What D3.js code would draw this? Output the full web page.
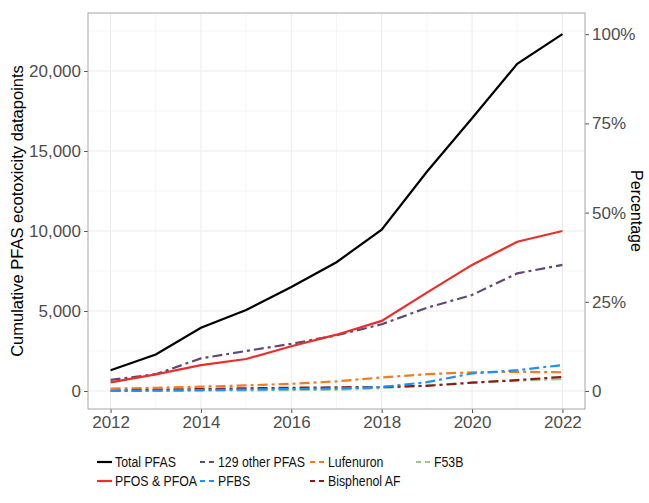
<!DOCTYPE html>
<html>
<head>
<meta charset="utf-8">
<script src="https://cdn.jsdelivr.net/npm/d3@7"></script>
<style>
  body { margin: 0; background: #fff; }
  svg { font-family: "Liberation Sans", Arial, sans-serif; }
</style>
</head>
<body>
<div id="chart"></div>
<script>
// data
const years = [2012, 2013, 2014, 2015, 2016, 2017, 2018, 2019, 2020, 2021, 2022];
const totalPfas   = [1300, 2280, 3950, 5060, 6500, 8050, 10080, 13700, 17050, 20450, 22300];
const pfosPfoa    = [540, 1040, 1620, 2000, 2800, 3520, 4380, 6150, 7880, 9330, 10000];
const otherPfas   = [690, 1050, 2040, 2500, 2950, 3480, 4170, 5200, 6000, 7350, 7880];
const lufenuron   = [150, 200, 270, 350, 450, 600, 850, 1050, 1170, 1200, 1170];
const pfbs        = [0, 20, 60, 90, 120, 150, 250, 550, 1100, 1300, 1620];
const bisphenolAF = [30, 80, 120, 170, 200, 230, 250, 320, 520, 680, 880];
const f53b        = [0, 0, 20, 40, 60, 80, 180, 350, 530, 650, 750];

const seriesNames = ["Total PFAS", "PFOS & PFOA", "129 other PFAS", "PFBS", "Lufenuron", "Bisphenol AF", "F53B"];
const seriesValues = [totalPfas, pfosPfoa, otherPfas, pfbs, lufenuron, bisphenolAF, f53b];
const seriesColors = ["#000000", "#EE2C2C", "#5E4A72", "#1E90FF", "#F57A1F", "#8B1A1A", "#9DC88D"];
const seriesSolid = [true, true, false, false, false, false, false];

const yTicks = [0, 5000, 10000, 15000, 20000];
const pctTicks = [0, 25, 50, 75, 100];
const xTicks = [2012, 2014, 2016, 2018, 2020, 2022];

const width = 649, height = 503;
const margin = { top: 13, right: 64, bottom: 94, left: 88 };

const svg = d3.select("#chart").append("svg")
  .attr("width", width).attr("height", height);

const x = d3.scaleLinear()
  .domain([2011.5, 2022.5])
  .range([margin.left, width - margin.right]);

const y = d3.scaleLinear()
  .domain([-1125, 23625])
  .range([height - margin.bottom, margin.top]);

// percentage axis is relative to the 2022 total
const ref = totalPfas[totalPfas.length - 1];
const yPct = d3.scaleLinear()
  .domain([y.domain()[0] / ref * 100, y.domain()[1] / ref * 100])
  .range(y.range());

const x0 = margin.left, x1 = width - margin.right;
const y0 = margin.top, y1 = height - margin.bottom;

// grid
const grid = svg.append("g");
d3.range(2013, 2023, 2).forEach(v => {
  grid.append("line").attr("x1", x(v)).attr("x2", x(v)).attr("y1", y0).attr("y2", y1)
    .attr("stroke", "#F3F3F3").attr("stroke-width", 0.8);
});
[2500, 7500, 12500, 17500, 22500].forEach(v => {
  grid.append("line").attr("x1", x0).attr("x2", x1).attr("y1", y(v)).attr("y2", y(v))
    .attr("stroke", "#F3F3F3").attr("stroke-width", 0.8);
});
xTicks.forEach(v => {
  grid.append("line").attr("x1", x(v)).attr("x2", x(v)).attr("y1", y0).attr("y2", y1)
    .attr("stroke", "#EBEBEB").attr("stroke-width", 1);
});
yTicks.forEach(v => {
  grid.append("line").attr("x1", x0).attr("x2", x1).attr("y1", y(v)).attr("y2", y(v))
    .attr("stroke", "#EBEBEB").attr("stroke-width", 1);
});

// axes
const fmt = d3.format(",");
const xAxis = svg.append("g")
  .attr("transform", `translate(0,${y1})`)
  .call(d3.axisBottom(x).tickValues(xTicks).tickFormat(d3.format("d")).tickSize(4).tickPadding(2));
const yAxis = svg.append("g")
  .attr("transform", `translate(${x0},0)`)
  .call(d3.axisLeft(y).tickValues(yTicks).tickFormat(fmt).tickSize(4).tickPadding(3));
const yAxisR = svg.append("g")
  .attr("transform", `translate(${x1},0)`)
  .call(d3.axisRight(yPct).tickValues(pctTicks).tickFormat(d => d === 0 ? "0" : d + "%").tickSize(4).tickPadding(3));

[xAxis, yAxis, yAxisR].forEach(a => {
  a.select(".domain").remove();
  a.selectAll(".tick line").attr("stroke", "#555").attr("stroke-width", 1);
  a.selectAll(".tick text").attr("fill", "#4D4D4D").style("font-size", "17px");
});
xAxis.selectAll(".tick text").attr("dy", "0.75em");

// panel border
svg.append("rect")
  .attr("x", x0).attr("y", y0).attr("width", x1 - x0).attr("height", y1 - y0)
  .attr("fill", "none").attr("stroke", "#A6A6A6").attr("stroke-width", 1);

// lines
const line = d3.line().x((d, i) => x(years[i])).y(d => y(d));
const draw = [6, 5, 4, 3, 2, 1, 0];
draw.forEach(k => {
  svg.append("path")
    .datum(seriesValues[k])
    .attr("d", line)
    .attr("fill", "none")
    .attr("stroke", seriesColors[k])
    .attr("stroke-width", 2.2)
    .attr("stroke-dasharray", seriesSolid[k] ? null : "10,4,3,4");
});

// axis titles
svg.append("text")
  .attr("transform", `translate(23,${(y0 + y1) / 2}) rotate(-90)`)
  .attr("text-anchor", "middle")
  .style("font-size", "16.5px")
  .text("Cumulative PFAS ecotoxicity datapoints");

svg.append("text")
  .attr("transform", `translate(631,${(y0 + y1) / 2}) rotate(90)`)
  .attr("text-anchor", "middle")
  .style("font-size", "16px")
  .text("Percentage");

// legend: two rows, four columns, filled by column
const legendCols = [97, 200, 310, 416];
const legendRows = [462, 481];
seriesNames.forEach((name, i) => {
  const col = Math.floor(i / 2), row = i % 2;
  const g = svg.append("g").attr("transform", `translate(${legendCols[col]},${legendRows[row]})`);
  g.append("line").attr("x1", 0).attr("x2", 15).attr("y1", 0).attr("y2", 0)
    .attr("stroke", seriesColors[i]).attr("stroke-width", 2.2)
    .attr("stroke-dasharray", seriesSolid[i] ? null : "5,4");
  g.append("text")
    .attr("transform", "translate(18,0) scale(0.85,1)")
    .attr("dy", "0.36em")
    .style("font-size", "14.5px").attr("fill", "#111")
    .text(name);
});
</script>
</body>
</html>
